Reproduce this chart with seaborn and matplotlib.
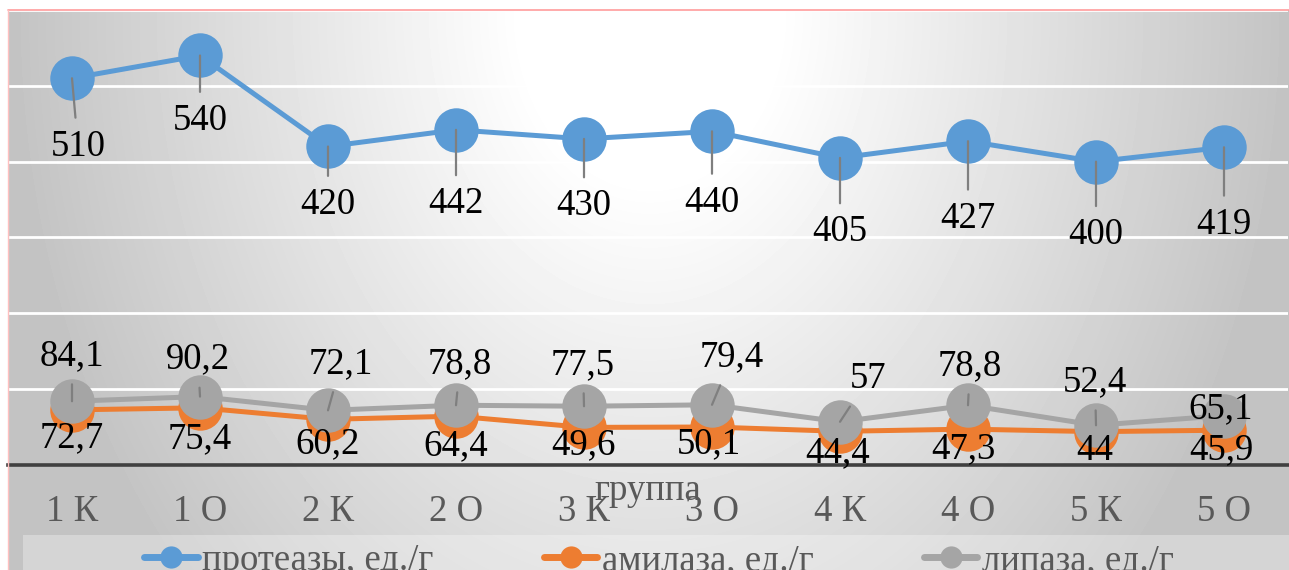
import numpy as np
import pandas as pd
import matplotlib
matplotlib.use("Agg")
import matplotlib.pyplot as plt
from matplotlib.lines import Line2D
from matplotlib.patches import Rectangle
import seaborn as sns

# ---------------- data ----------------
categories = ["1 К", "1 О", "2 К", "2 О", "3 К", "3 О", "4 К", "4 О", "5 К", "5 О"]
protease = [510, 540, 420, 442, 430, 440, 405, 427, 400, 419]
amylase = [72.7, 75.4, 60.2, 64.4, 49.6, 50.1, 44.4, 47.3, 44, 45.9]
lipase = [84.1, 90.2, 72.1, 78.8, 77.5, 79.4, 57, 78.8, 52.4, 65.1]
series_names = ["протеазы, ед./г", "амилаза, ед./г", "липаза, ед./г"]
x_title = "группа"

# ---------------- style / layout ----------------
colors = ["#5B9BD5", "#ED7D31", "#A5A5A5"]
# data-label offsets in screen pixels (+x right, +y down), label visual centre vs point
prot_off = [(6, 65), (0, 62), (0, 55), (0, 71), (0, 64), (0, 68), (0, 71), (0, 74), (0, 70), (0, 74)]
amyl_off = [(0, 25), (0, 28), (0, 21), (0, 27), (0, 14), (-3, 14), (-2, 18), (-5, 17), (-1, 16), (-3, 16)]
lip_off = [(0, -49), (-2, -41), (13, -50), (4, -45), (-1, -45), (20, -51), (28, -46), (2, -43), (-1, -47), (-3, -10)]
prot_leader = [True] * 10
amyl_leader = [False] * 10
lip_leader = [True] * 9 + [False]

sns.set_theme(style="white")
plt.rcParams["font.family"] = ["Liberation Serif", "DejaVu Serif"]
FS = 26.5

W, H, DPI = 1289, 570, 100
fig = plt.figure(figsize=(W / DPI, H / DPI), dpi=DPI)
fig.patch.set_facecolor("white")

# background gradient (chart area)
bx0, by0 = 8, 10
bg = fig.add_axes([bx0 / W, 0, (W - bx0) / W, (H - by0) / H])
xs = np.arange(bx0, W) + 0.5
ys = np.arange(by0, H) + 0.5
XX, YY = np.meshgrid(xs, ys)
r = np.sqrt(((XX - 650) / 640.0) ** 2 + ((YY - 10) / 850.0) ** 2)
val = 255 - 60 * np.clip((r - 0.2) / 0.8, 0, 1)
bg.imshow(val, cmap="gray", vmin=0, vmax=255, aspect="auto", interpolation="bilinear")
bg.set_axis_off()

# main axes
ax_left, ax_right, ax_top, ax_bottom = 8, 1288, 10, 465
ax = fig.add_axes([ax_left / W, (H - ax_bottom) / H, (ax_right - ax_left) / W, (ax_bottom - ax_top) / H])
ax.set_facecolor("none")

df = pd.DataFrame({
    "group": categories * 3,
    "value": protease + amylase + lipase,
    "series": [series_names[0]] * 10 + [series_names[1]] * 10 + [series_names[2]] * 10,
})
sns.lineplot(data=df, x="group", y="value", hue="series", hue_order=series_names,
             palette=colors, marker="o", markersize=32, markeredgewidth=0,
             linewidth=3.6, sort=False, ax=ax, legend=False, zorder=2)

ax.set_xlim(-0.5, len(categories) - 0.5)
ax.set_ylim(0, 600)
ax.set_yticks(range(0, 700, 100))
ax.set_yticklabels([])
ax.yaxis.grid(True, color="white", linewidth=2)
ax.xaxis.grid(False)
ax.tick_params(axis="y", length=0)
ax.tick_params(axis="x", length=0, pad=21, labelsize=FS, labelcolor="#595959")
for s in ["left", "right", "top"]:
    ax.spines[s].set_visible(False)
ax.spines["bottom"].set_color("#404040")
ax.spines["bottom"].set_linewidth(2.6)
ax.spines["bottom"].set_zorder(1.5)

ax.set_ylabel("")
ax.set_xlabel(x_title, fontsize=FS, color="#595959")
ax.xaxis.set_label_coords(0.5, -(500 - 465) / (ax_bottom - ax_top))
ax.xaxis.label.set_va("baseline")


def fmt(v):
    return f"{v:g}".replace(".", ",")


def add_labels(values, offs, leaders):
    for i, (v, (dx, dy), lead) in enumerate(zip(values, offs, leaders)):
        kw = {}
        if lead:
            kw["arrowprops"] = dict(arrowstyle="-", color="#7F7F7F", lw=1.6,
                                    shrinkA=6, shrinkB=0)
        ax.annotate(fmt(v), xy=(i, v), xytext=(dx, -(dy + 12.5)),
                    textcoords="offset pixels", ha="center", va="baseline",
                    fontsize=FS, color="black", zorder=4, **kw)


add_labels(protease, prot_off, prot_leader)
add_labels(amylase, amyl_off, amyl_leader)
add_labels(lipase, lip_off, lip_leader)

# chart border (pink top/left)
fig.add_artist(Line2D([bx0 / W, 1], [(H - by0) / H, (H - by0) / H], color="#FF9C9C", lw=1.2,
                      transform=fig.transFigure))
fig.add_artist(Line2D([bx0 / W, bx0 / W], [0, (H - by0) / H], color="#FFC0C0", lw=1.0,
                      transform=fig.transFigure))

# legend box
fig.patches.append(Rectangle((23 / W, 0), 1 - 23 / W, (H - 535) / H, transform=fig.transFigure,
                             facecolor="white", alpha=0.3, edgecolor="none", zorder=1))
handles = [Line2D([0], [0], color=c, lw=5, marker="o", markersize=16, markeredgewidth=0)
           for c in colors]
fig.legend(handles, series_names, loc="center", bbox_to_anchor=(659 / W, (H - 561) / H),
           ncol=3, frameon=False, fontsize=FS, labelcolor="#595959",
           handlelength=1.45, handletextpad=0.12, columnspacing=3.0, borderpad=0)

fig.savefig("out.png", dpi=DPI)
